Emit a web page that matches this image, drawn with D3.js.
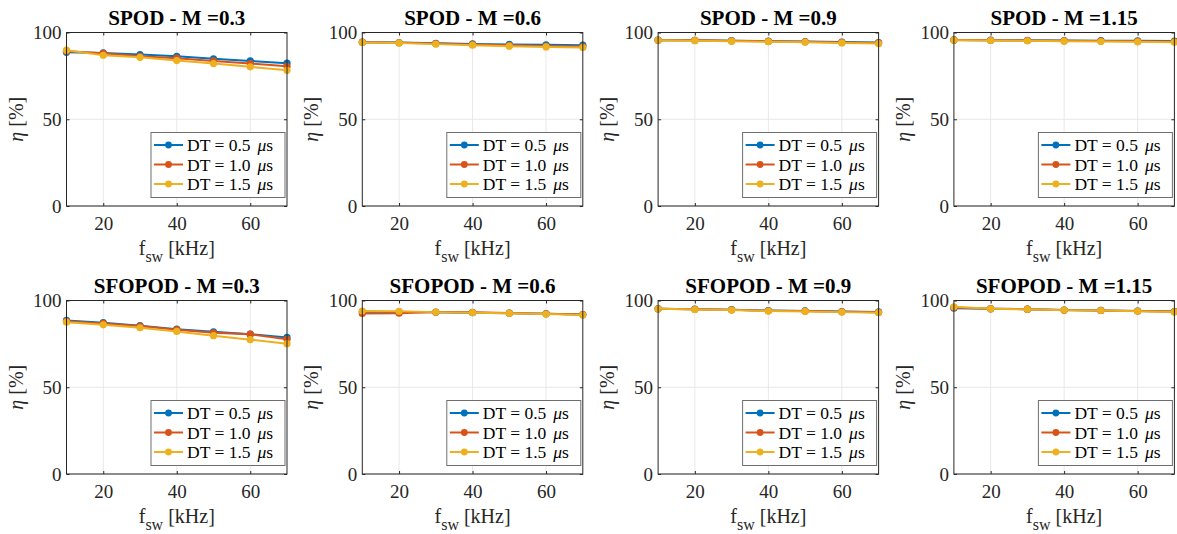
<!DOCTYPE html>
<head>
    <meta charset="utf-8">
    <title>Efficiency vs switching frequency</title>
    <style>
        body { margin: 0; background: #fff; }
        text { fill: #262626; }
        text.title { font-size: 21px; font-weight: bold; fill: #000; }
        .axis path { display: none; }
        .axis line { stroke: #262626; }
        text.label { font-size: 20px; }
        text.legend { font-size: 17.5px; fill: #000; }
    </style>
    <script src="https://cdn.jsdelivr.net/npm/d3@7"></script>
</head>
<body>
    <script>
        var FONT = "'Liberation Serif', 'Times New Roman', Times, serif";
        var fsw = [10, 20, 30, 40, 50, 60, 70];
        var dtLabels = ["0.5", "1.0", "1.5"];
        var schemes = ["SPOD", "SFOPOD"];
        var modIndex = ["0.3", "0.6", "0.9", "1.15"];
        var xTicks = [20, 40, 60];
        var yTicks = [0, 50, 100];
        var colors = ["#0072BD", "#D95319", "#EDB120"];

        // efficiency [%] per DT (0.5, 1.0, 1.5 us)
        var spod03 = [[88.6, 88.2, 87.3, 86.3, 84.8, 83.6, 82.3], [89.2, 88.0, 86.3, 85.2, 83.6, 82.1, 80.5], [89.8, 86.9, 85.7, 83.8, 82.1, 80.2, 78.2]];
        var spod06 = [[94.4, 94.2, 93.8, 93.4, 93.1, 92.9, 92.7], [94.4, 94.1, 93.6, 93.1, 92.6, 92.2, 91.9], [94.3, 94.0, 93.3, 92.7, 92.1, 91.7, 91.3]];
        var spod09 = [[95.6, 95.5, 95.3, 95.0, 94.8, 94.5, 94.2], [95.6, 95.5, 95.2, 94.9, 94.6, 94.3, 94.0], [95.5, 95.3, 95.0, 94.7, 94.4, 94.0, 93.6]];
        var spod115 = [[95.7, 95.6, 95.5, 95.4, 95.3, 95.2, 95.1], [95.7, 95.5, 95.4, 95.2, 95.1, 94.9, 94.8], [95.6, 95.4, 95.2, 95.0, 94.8, 94.6, 94.4]];
        var sfopod03 = [[88.5, 87.2, 85.5, 83.5, 82.0, 80.6, 78.7], [88.0, 86.8, 85.3, 83.2, 81.4, 80.6, 77.6], [87.5, 86.0, 84.3, 82.2, 79.7, 77.4, 75.1]];
        var sfopod06 = [[93.5, 93.4, 93.2, 93.0, 92.7, 92.4, 91.9], [92.5, 92.7, 93.3, 93.2, 92.8, 92.3, 91.9], [93.9, 93.8, 93.3, 93.0, 92.6, 92.2, 91.7]];
        var sfopod09 = [[95.3, 95.0, 94.7, 94.2, 94.0, 93.6, 93.4], [95.2, 94.9, 94.6, 94.1, 93.9, 93.5, 93.2], [95.2, 94.8, 94.5, 93.9, 93.7, 93.3, 93.0]];
        var sfopod115 = [[95.6, 95.2, 95.0, 94.5, 94.3, 93.9, 93.6], [96.0, 95.3, 95.0, 94.5, 94.3, 93.9, 93.6], [96.4, 95.2, 94.9, 94.4, 94.2, 93.8, 93.4]];

        var panelData = [
            [spod03, spod06, spod09, spod115],
            [sfopod03, sfopod06, sfopod09, sfopod115]
        ];

        var W = 1177, H = 534;
        var plotW = 220.5, plotH = 173.5;
        var lefts = [66.5, 362.3, 658.1, 953.9];
        var tops = [32.5, 300.5];

        var svg = d3.select("body").append("svg")
            .attr("width", W)
            .attr("height", H)
            .style("font-family", FONT);

        var x = d3.scaleLinear().domain([10, 70]).range([0, plotW]);
        var y = d3.scaleLinear().domain([0, 100]).range([plotH, 0]);

        var line = d3.line()
            .x(function (d, i) { return x(fsw[i]); })
            .y(function (d) { return y(d); });

        schemes.forEach(function (scheme, r) {
            modIndex.forEach(function (m, c) {
                var g = svg.append("g")
                    .attr("transform", "translate(" + lefts[c] + "," + tops[r] + ")");

                g.append("rect")
                    .attr("width", plotW).attr("height", plotH)
                    .attr("fill", "#fff");

                // grid
                g.selectAll(".gx").data(xTicks).enter().append("line")
                    .attr("x1", d => x(d)).attr("x2", d => x(d))
                    .attr("y1", 0).attr("y2", plotH)
                    .attr("stroke", "#e8e8e8").attr("stroke-width", 1);
                g.selectAll(".gy").data(yTicks).enter().append("line")
                    .attr("x1", 0).attr("x2", plotW)
                    .attr("y1", d => y(d)).attr("y2", d => y(d))
                    .attr("stroke", "#e8e8e8").attr("stroke-width", 1);

                // axes (ticks inside)
                g.append("g").attr("class", "axis")
                    .attr("transform", "translate(0," + plotH + ")")
                    .call(d3.axisBottom(x).tickValues(xTicks).tickSize(-3).tickPadding(11));
                g.append("g").attr("class", "axis")
                    .call(d3.axisTop(x).tickValues(xTicks).tickSize(-3).tickFormat(""));
                g.append("g").attr("class", "axis")
                    .call(d3.axisLeft(y).tickValues(yTicks).tickSize(-3).tickPadding(5));
                g.append("g").attr("class", "axis")
                    .attr("transform", "translate(" + plotW + ",0)")
                    .call(d3.axisRight(y).tickValues(yTicks).tickSize(-3).tickFormat(""));
                g.selectAll(".axis").attr("font-family", FONT).attr("font-size", 19);
                g.selectAll(".axis text").attr("fill", "#262626");

                // series
                var series = panelData[r][c];
                series.forEach(function (vals, k) {
                    g.append("path")
                        .datum(vals)
                        .attr("d", line)
                        .attr("fill", "none")
                        .attr("stroke", colors[k])
                        .attr("stroke-width", 2);
                    g.selectAll(".pt" + k).data(vals).enter().append("circle")
                        .attr("cx", (d, i) => x(fsw[i]))
                        .attr("cy", d => y(d))
                        .attr("r", 3.6)
                        .attr("fill", colors[k]);
                });

                g.append("rect")
                    .attr("width", plotW).attr("height", plotH)
                    .attr("fill", "none")
                    .attr("stroke", "#262626").attr("stroke-width", 1);

                // title
                g.append("text").attr("class", "title")
                    .attr("x", plotW / 2).attr("y", -8)
                    .attr("text-anchor", "middle")
                    .text(scheme + " - M =" + m);

                // x label
                var xl = g.append("text").attr("class", "label")
                    .attr("x", plotW / 2).attr("y", plotH + 49)
                    .attr("text-anchor", "middle");
                xl.append("tspan").text("f");
                xl.append("tspan").attr("dy", 7).style("font-size", "16px").text("sw");
                xl.append("tspan").attr("dy", -7).text(" [kHz]");

                // y label
                var yl = g.append("text").attr("class", "label")
                    .attr("transform", "translate(-44," + (plotH / 2) + ") rotate(-90)")
                    .attr("text-anchor", "middle");
                yl.append("tspan").style("font-style", "italic").text("η");
                yl.append("tspan").text(" [%]");

                // legend
                var lg = g.append("g")
                    .attr("transform", "translate(" + (plotW - 136) + ",100)");
                lg.append("rect")
                    .attr("width", 134).attr("height", 65)
                    .attr("fill", "#fff")
                    .attr("stroke", "#6e6e6e").attr("stroke-width", 1);
                dtLabels.forEach(function (dt, k) {
                    var ly = 12.5 + k * 19.5;
                    lg.append("line")
                        .attr("x1", 3).attr("x2", 32)
                        .attr("y1", ly).attr("y2", ly)
                        .attr("stroke", colors[k]).attr("stroke-width", 2);
                    lg.append("circle")
                        .attr("cx", 17.5).attr("cy", ly).attr("r", 3.4)
                        .attr("fill", colors[k]);
                    var t = lg.append("text").attr("class", "legend")
                        .attr("x", 36).attr("y", ly + 6);
                    t.append("tspan").text("DT = " + dt);
                    t.append("tspan").attr("dx", 7).style("font-style", "italic").text("μ");
                    t.append("tspan").text("s");
                });
            });
        });
    </script>
</body>
